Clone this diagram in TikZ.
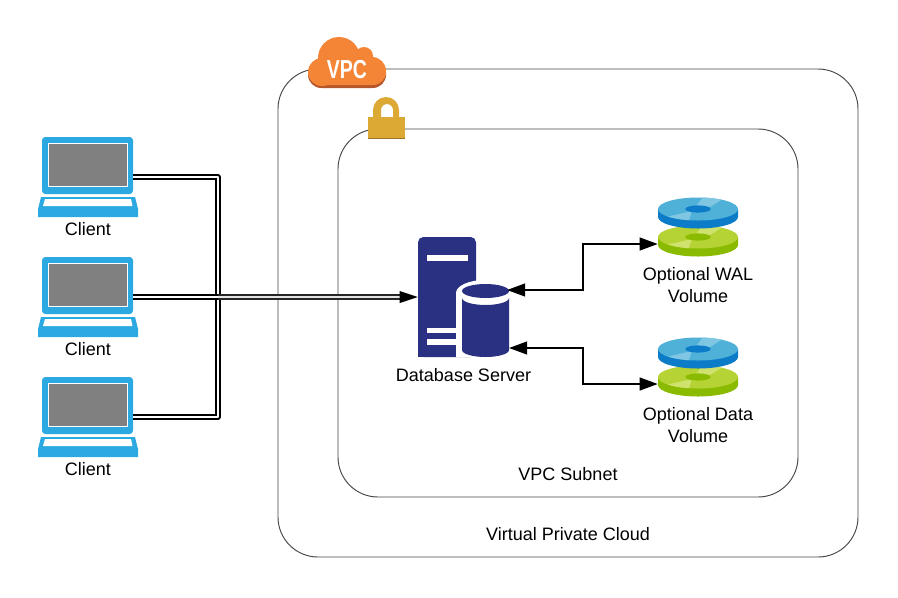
\documentclass[tikz,border=0pt]{standalone}
\usepackage{fontspec}
\setmainfont{Liberation Sans}
\usetikzlibrary{arrows.meta}
\definecolor{lapblue}{HTML}{2CA9E1}
\definecolor{navy}{HTML}{2A3182}
\definecolor{boxline}{HTML}{444444}
\definecolor{cloudor}{HTML}{F58536}
\definecolor{cloudsh}{HTML}{B6562B}
\definecolor{lockc}{HTML}{DBA934}
\definecolor{lockd}{HTML}{9A7420}
\definecolor{ptop}{HTML}{4FB0D8}
\definecolor{pside}{HTML}{0C7CC8}
\definecolor{phi}{HTML}{7FC6E3}
\definecolor{gtop}{HTML}{B5D334}
\definecolor{gside}{HTML}{8ABB00}
\definecolor{ghi}{HTML}{CFE26E}
\tikzset{
  region/.style={draw=boxline,line width=0.7pt,rounded corners=30pt},
  label/.style={font=\fontsize{13.5}{16.5}\selectfont,inner sep=0pt,align=center,text=black},
  anchorbox/.style={inner sep=0pt,minimum width=#1*0.75pt},
  dbl/.style={draw=black,double=white,line width=1.1pt,double distance=1.9pt,line join=round},
  dblgrey/.style={draw=black!85,double=black!10,line width=1.2pt,double distance=1.8pt},
  link/.style={draw=black,line width=1.5pt,{Triangle[length=13.5pt,width=9.5pt]}-{Triangle[length=13.5pt,width=9.5pt]}},
  pics/laptop/.style={code={
    \fill[lapblue,rounded corners=2.5pt] (-46,-40) rectangle (45,17);
    \fill[white] (-40,-34) rectangle (40,10);
    \fill[gray!100] (-39,-33.3) rectangle (38.5,9);
    \fill[lapblue] (-47,20) -- (47,20) -- (50,32) -- (50,40) -- (-50,40) -- (-50,32) -- cycle;
    \fill[white] (-43,22) -- (43,22) -- (44.5,29) -- (-45,29) -- cycle;
  }},
  pics/platter/.style args={#1/#2/#3}{code={
    \fill[#2] (-40,0) -- (-40,8) arc[x radius=40,y radius=11.5,start angle=180,end angle=0] -- (40,0) -- cycle;
    \fill[#1] (0,0) ellipse[x radius=40,y radius=11.5];
    \begin{scope}
      \clip (0,0) ellipse[x radius=40,y radius=11.5];
      \fill[#3] (-2,-3) -- (6,-13) -- (28,-12) -- (12,-2) -- cycle;
      \fill[#3] (-6,2) -- (-32,8) -- (-18,14) -- (-10,14) -- cycle;
    \end{scope}
    \fill[#2] (0,0) ellipse[x radius=12.7,y radius=3.6];
  }},
  pics/volume/.style={code={
    \pic at (0,10) {platter={gtop/gside/ghi}};
    \pic at (0,-18) {platter={ptop/pside/phi}};
  }}
}
\begin{document}
\begin{tikzpicture}[x=0.75pt,y=-0.75pt]
\useasboundingbox (0,0) rectangle (898,597);
\fill[white] (0,0) rectangle (898,597);

% regions
\node[region,minimum width=435pt,minimum height=366pt,inner sep=0pt] (vpc) at (568,313) {};
\node[region,minimum width=345pt,minimum height=276pt,inner sep=0pt] (subnet) at (568,313) {};
\node[label] (vpclabel) at (568,534) {Virtual Private Cloud};
\node[label] (subnetlabel) at (568,474) {VPC Subnet};

% cloud
\begin{scope}[shift={(0,3)}]
  \fill[cloudsh] (339,58) circle[radius=21];
  \fill[cloudsh,rounded corners=10pt] (308,58) rectangle (386,85);
\end{scope}
\fill[cloudor] (339,58) circle[radius=21];
\fill[cloudor] (364,56) circle[radius=9];
\fill[cloudor] (372,71) circle[radius=14];
\fill[cloudor] (322,72) circle[radius=14];
\fill[cloudor,rounded corners=10pt] (308,62) rectangle (386,85);
\node[inner sep=0pt,text=white,font=\fontsize{19.5}{20}\bfseries\selectfont] (vpctext) at (347,69.5) {\scalebox{0.75}[1]{VPC}};

% lock
\fill[lockc] (373,118) -- (373,110) arc[radius=13,start angle=180,end angle=360] -- (399,118) -- (393,118) -- (393,110) arc[radius=6,start angle=0,end angle=-180] -- (381,118) -- cycle;
\fill[lockc] (368,117) rectangle (405,138);
\fill[lockd] (368,138) rectangle (405,139);

% clients
\node[anchorbox=92,minimum height=60pt] (c1) at (87,177) {};
\node[anchorbox=92,minimum height=60pt] (c2) at (87,297) {};
\node[anchorbox=92,minimum height=60pt] (c3) at (87,417) {};
\pic at (88,177) {laptop};
\pic at (88,297) {laptop};
\pic at (88,417) {laptop};
\node[label] (l1) at (88,229.5) {Client};
\node[label] (l2) at (88,349.5) {Client};
\node[label] (l3) at (88,469.5) {Client};

% server
\node[anchorbox=58,minimum height=90pt] (server) at (447,297) {};
\fill[navy,rounded corners=4pt] (418,357) -- (418,237) -- (476,237) -- (476,357) -- cycle;
\fill[navy] (418,350) rectangle (476,357);
\fill[white] (427,255) rectangle (468,261);
\fill[white] (427,328) rectangle (470,333);
\fill[white] (427,339) rectangle (470,345);
\fill[white] (456,357) -- (456,293) arc[x radius=29,y radius=13,start angle=180,end angle=360] -- (514,293) -- (514,357) -- cycle;
\fill[navy] (462,298) arc[x radius=23.5,y radius=7,start angle=180,end angle=0] -- (509,350) arc[x radius=23.5,y radius=7,start angle=0,end angle=180] -- cycle;
\fill[navy] (485.5,291) ellipse[x radius=23.5,y radius=7];
\node[label] (dblabel) at (463.5,375) {Database Server};
\coordinate (dbA) at (507,290);
\coordinate (dbB) at (509,348);

% volumes
\node[anchorbox=80,minimum height=19pt] (wal) at (698,244) {};
\node[anchorbox=80,minimum height=19pt] (data) at (698,384) {};
\pic at (698,227) {volume};
\pic at (698,367) {volume};
\node[label] (wall) at (698,285) {Optional WAL\\Volume};
\node[label] (datal) at (698,425) {Optional Data\\Volume};

% connectors
\coordinate (bus) at (218,297);
\draw[dbl] (c1.east) -| (bus);
\draw[dbl] (c3.east) -| (bus);
\draw[dbl] (c2.east) -- (bus);
\draw[dblgrey,shorten >=12pt] (bus) -- (server.west);
\draw[draw=none,fill=black] (server.west) -- ++(-18,-6) -- ++(0,12) -- cycle;
\coordinate (m1) at (583,267);
\coordinate (m2) at (583,366);
\draw[link] (dbA) -| (m1) |- (wal.west);
\draw[link] (dbB) -| (m2) |- (data.west);
\end{tikzpicture}
\end{document}
